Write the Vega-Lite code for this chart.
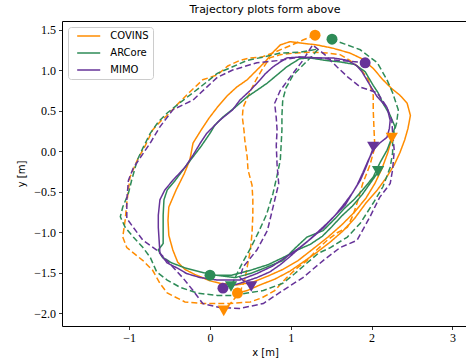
{
  "$schema": "https://vega.github.io/schema/vega-lite/v6.json",
  "width": 406,
  "height": 305,
  "autosize": "none",
  "padding": {"left": 62, "top": 21, "right": 0, "bottom": 36},
  "background": "white",
  "title": {"text": "Trajectory plots form above", "font": "DejaVu Sans", "fontSize": 11, "fontWeight": "normal", "color": "black", "offset": 6, "anchor": "middle"},
  "config": {
    "view": {"stroke": "black", "strokeWidth": 1},
    "axis": {"grid": false, "domain": false, "tickColor": "black", "tickSize": 3.5, "tickWidth": 0.8, "labelColor": "black", "labelFont": "Liberation Serif", "labelFontSize": 12, "labelPadding": 3, "titleFont": "DejaVu Sans", "titleFontSize": 10, "titleFontWeight": "normal", "titleColor": "black"},
    "legend": {"orient": "none", "legendX": 6, "legendY": 6, "fillColor": "white", "strokeColor": "#cccccc", "cornerRadius": 3, "padding": 4, "labelFont": "DejaVu Sans", "labelFontSize": 10, "labelColor": "black", "rowPadding": 7, "title": null}
  },
  "datasets": {
    "traj": [
      {"device":"COVINS","run":"run 1","x":0.33,"y":-1.75},{"device":"COVINS","run":"run 1","x":0.46,"y":-1.72},{"device":"COVINS","run":"run 1","x":0.62,"y":-1.65},{"device":"COVINS","run":"run 1","x":0.80,"y":-1.58},{"device":"COVINS","run":"run 1","x":0.99,"y":-1.48},{"device":"COVINS","run":"run 1","x":1.15,"y":-1.37},{"device":"COVINS","run":"run 1","x":1.32,"y":-1.25},{"device":"COVINS","run":"run 1","x":1.49,"y":-1.12},{"device":"COVINS","run":"run 1","x":1.65,"y":-0.98},{"device":"COVINS","run":"run 1","x":1.79,"y":-0.83},{"device":"COVINS","run":"run 1","x":1.93,"y":-0.64},{"device":"COVINS","run":"run 1","x":2.07,"y":-0.48},{"device":"COVINS","run":"run 1","x":2.18,"y":-0.33},{"device":"COVINS","run":"run 1","x":2.28,"y":-0.17},{"device":"COVINS","run":"run 1","x":2.35,"y":-0.02},{"device":"COVINS","run":"run 1","x":2.41,"y":0.14},{"device":"COVINS","run":"run 1","x":2.45,"y":0.28},{"device":"COVINS","run":"run 1","x":2.48,"y":0.44},{"device":"COVINS","run":"run 1","x":2.44,"y":0.59},{"device":"COVINS","run":"run 1","x":2.35,"y":0.69},{"device":"COVINS","run":"run 1","x":2.25,"y":0.77},{"device":"COVINS","run":"run 1","x":2.14,"y":0.88},{"device":"COVINS","run":"run 1","x":2.02,"y":1.02},{"device":"COVINS","run":"run 1","x":1.88,"y":1.14},{"device":"COVINS","run":"run 1","x":1.73,"y":1.21},{"device":"COVINS","run":"run 1","x":1.52,"y":1.27},{"device":"COVINS","run":"run 1","x":1.32,"y":1.31},{"device":"COVINS","run":"run 1","x":1.15,"y":1.33},{"device":"COVINS","run":"run 1","x":0.99,"y":1.35},{"device":"COVINS","run":"run 1","x":0.87,"y":1.31},{"device":"COVINS","run":"run 1","x":0.78,"y":1.22},{"device":"COVINS","run":"run 1","x":0.68,"y":1.10},{"device":"COVINS","run":"run 1","x":0.58,"y":1.00},{"device":"COVINS","run":"run 1","x":0.46,"y":0.88},{"device":"COVINS","run":"run 1","x":0.33,"y":0.79},{"device":"COVINS","run":"run 1","x":0.21,"y":0.68},{"device":"COVINS","run":"run 1","x":0.09,"y":0.54},{"device":"COVINS","run":"run 1","x":-0.01,"y":0.41},{"device":"COVINS","run":"run 1","x":-0.11,"y":0.26},{"device":"COVINS","run":"run 1","x":-0.21,"y":0.10},{"device":"COVINS","run":"run 1","x":-0.25,"y":-0.11},{"device":"COVINS","run":"run 1","x":-0.32,"y":-0.28},{"device":"COVINS","run":"run 1","x":-0.42,"y":-0.48},{"device":"COVINS","run":"run 1","x":-0.51,"y":-0.69},{"device":"COVINS","run":"run 1","x":-0.52,"y":-0.85},{"device":"COVINS","run":"run 1","x":-0.51,"y":-1.04},{"device":"COVINS","run":"run 1","x":-0.46,"y":-1.22},{"device":"COVINS","run":"run 1","x":-0.40,"y":-1.37},{"device":"COVINS","run":"run 1","x":-0.31,"y":-1.46},{"device":"COVINS","run":"run 1","x":-0.19,"y":-1.52},{"device":"COVINS","run":"run 1","x":0.00,"y":-1.60},{"device":"COVINS","run":"run 1","x":0.12,"y":-1.63},{"device":"COVINS","run":"run 1","x":0.33,"y":-1.65},{"device":"COVINS","run":"run 1","x":0.52,"y":-1.62},{"device":"COVINS","run":"run 1","x":0.72,"y":-1.54},{"device":"COVINS","run":"run 1","x":0.90,"y":-1.46},{"device":"COVINS","run":"run 1","x":1.09,"y":-1.35},{"device":"COVINS","run":"run 1","x":1.27,"y":-1.21},{"device":"COVINS","run":"run 1","x":1.46,"y":-1.06},{"device":"COVINS","run":"run 1","x":1.63,"y":-0.91},{"device":"COVINS","run":"run 1","x":1.79,"y":-0.75},{"device":"COVINS","run":"run 1","x":1.93,"y":-0.58},{"device":"COVINS","run":"run 1","x":2.04,"y":-0.40},{"device":"COVINS","run":"run 1","x":2.13,"y":-0.21},{"device":"COVINS","run":"run 1","x":2.20,"y":-0.02},{"device":"COVINS","run":"run 1","x":2.25,"y":0.16},

      {"device":"COVINS","run":"run 2","x":1.30,"y":1.43},{"device":"COVINS","run":"run 2","x":1.15,"y":1.37},{"device":"COVINS","run":"run 2","x":0.99,"y":1.30},{"device":"COVINS","run":"run 2","x":0.80,"y":1.22},{"device":"COVINS","run":"run 2","x":0.64,"y":1.16},{"device":"COVINS","run":"run 2","x":0.50,"y":1.15},{"device":"COVINS","run":"run 2","x":0.37,"y":1.12},{"device":"COVINS","run":"run 2","x":0.22,"y":1.05},{"device":"COVINS","run":"run 2","x":0.09,"y":0.94},{"device":"COVINS","run":"run 2","x":-0.09,"y":0.88},{"device":"COVINS","run":"run 2","x":-0.25,"y":0.73},{"device":"COVINS","run":"run 2","x":-0.40,"y":0.58},{"device":"COVINS","run":"run 2","x":-0.50,"y":0.47},{"device":"COVINS","run":"run 2","x":-0.62,"y":0.36},{"device":"COVINS","run":"run 2","x":-0.71,"y":0.26},{"device":"COVINS","run":"run 2","x":-0.80,"y":0.07},{"device":"COVINS","run":"run 2","x":-0.90,"y":-0.11},{"device":"COVINS","run":"run 2","x":-0.99,"y":-0.32},{"device":"COVINS","run":"run 2","x":-1.01,"y":-0.48},{"device":"COVINS","run":"run 2","x":-1.03,"y":-0.64},{"device":"COVINS","run":"run 2","x":-1.05,"y":-0.85},{"device":"COVINS","run":"run 2","x":-1.08,"y":-1.06},{"device":"COVINS","run":"run 2","x":-1.03,"y":-1.19},{"device":"COVINS","run":"run 2","x":-0.93,"y":-1.27},{"device":"COVINS","run":"run 2","x":-0.83,"y":-1.35},{"device":"COVINS","run":"run 2","x":-0.71,"y":-1.47},{"device":"COVINS","run":"run 2","x":-0.62,"y":-1.63},{"device":"COVINS","run":"run 2","x":-0.53,"y":-1.75},{"device":"COVINS","run":"run 2","x":-0.31,"y":-1.86},{"device":"COVINS","run":"run 2","x":-0.09,"y":-1.88},{"device":"COVINS","run":"run 2","x":0.25,"y":-1.88},{"device":"COVINS","run":"run 2","x":0.50,"y":-1.86},{"device":"COVINS","run":"run 2","x":0.64,"y":-1.81},{"device":"COVINS","run":"run 2","x":0.80,"y":-1.72},{"device":"COVINS","run":"run 2","x":0.95,"y":-1.56},{"device":"COVINS","run":"run 2","x":1.08,"y":-1.44},{"device":"COVINS","run":"run 2","x":1.20,"y":-1.35},{"device":"COVINS","run":"run 2","x":1.32,"y":-1.22},{"device":"COVINS","run":"run 2","x":1.45,"y":-1.10},{"device":"COVINS","run":"run 2","x":1.57,"y":-1.01},{"device":"COVINS","run":"run 2","x":1.70,"y":-0.94},{"device":"COVINS","run":"run 2","x":1.77,"y":-0.79},{"device":"COVINS","run":"run 2","x":1.82,"y":-0.64},{"device":"COVINS","run":"run 2","x":1.89,"y":-0.40},{"device":"COVINS","run":"run 2","x":1.98,"y":-0.17},{"device":"COVINS","run":"run 2","x":2.04,"y":0.05},{"device":"COVINS","run":"run 2","x":2.03,"y":0.26},{"device":"COVINS","run":"run 2","x":2.02,"y":0.51},{"device":"COVINS","run":"run 2","x":2.02,"y":0.69},{"device":"COVINS","run":"run 2","x":1.96,"y":0.88},{"device":"COVINS","run":"run 2","x":1.86,"y":1.02},{"device":"COVINS","run":"run 2","x":1.73,"y":1.12},{"device":"COVINS","run":"run 2","x":1.61,"y":1.19},{"device":"COVINS","run":"run 2","x":1.45,"y":1.21},{"device":"COVINS","run":"run 2","x":1.24,"y":1.22},{"device":"COVINS","run":"run 2","x":1.05,"y":1.21},{"device":"COVINS","run":"run 2","x":0.87,"y":1.19},{"device":"COVINS","run":"run 2","x":0.74,"y":1.15},{"device":"COVINS","run":"run 2","x":0.64,"y":1.00},{"device":"COVINS","run":"run 2","x":0.57,"y":0.88},{"device":"COVINS","run":"run 2","x":0.52,"y":0.78},{"device":"COVINS","run":"run 2","x":0.45,"y":0.63},{"device":"COVINS","run":"run 2","x":0.41,"y":0.54},{"device":"COVINS","run":"run 2","x":0.40,"y":0.42},{"device":"COVINS","run":"run 2","x":0.42,"y":0.26},{"device":"COVINS","run":"run 2","x":0.43,"y":0.14},{"device":"COVINS","run":"run 2","x":0.46,"y":-0.07},{"device":"COVINS","run":"run 2","x":0.47,"y":-0.23},{"device":"COVINS","run":"run 2","x":0.52,"y":-0.42},{"device":"COVINS","run":"run 2","x":0.53,"y":-0.60},{"device":"COVINS","run":"run 2","x":0.53,"y":-0.79},{"device":"COVINS","run":"run 2","x":0.52,"y":-1.01},{"device":"COVINS","run":"run 2","x":0.50,"y":-1.22},{"device":"COVINS","run":"run 2","x":0.46,"y":-1.43},{"device":"COVINS","run":"run 2","x":0.43,"y":-1.59},{"device":"COVINS","run":"run 2","x":0.37,"y":-1.74},{"device":"COVINS","run":"run 2","x":0.27,"y":-1.86},{"device":"COVINS","run":"run 2","x":0.17,"y":-1.97},

      {"device":"ARCore","run":"run 1","x":0.00,"y":-1.52},{"device":"ARCore","run":"run 1","x":0.15,"y":-1.54},{"device":"ARCore","run":"run 1","x":0.31,"y":-1.56},{"device":"ARCore","run":"run 1","x":0.50,"y":-1.51},{"device":"ARCore","run":"run 1","x":0.68,"y":-1.44},{"device":"ARCore","run":"run 1","x":0.90,"y":-1.35},{"device":"ARCore","run":"run 1","x":1.05,"y":-1.20},{"device":"ARCore","run":"run 1","x":1.20,"y":-1.06},{"device":"ARCore","run":"run 1","x":1.40,"y":-0.98},{"device":"ARCore","run":"run 1","x":1.55,"y":-0.83},{"device":"ARCore","run":"run 1","x":1.67,"y":-0.70},{"device":"ARCore","run":"run 1","x":1.79,"y":-0.59},{"device":"ARCore","run":"run 1","x":1.88,"y":-0.49},{"device":"ARCore","run":"run 1","x":2.02,"y":-0.32},{"device":"ARCore","run":"run 1","x":2.10,"y":-0.15},{"device":"ARCore","run":"run 1","x":2.19,"y":0.01},{"device":"ARCore","run":"run 1","x":2.24,"y":0.14},{"device":"ARCore","run":"run 1","x":2.29,"y":0.30},{"device":"ARCore","run":"run 1","x":2.23,"y":0.44},{"device":"ARCore","run":"run 1","x":2.14,"y":0.59},{"device":"ARCore","run":"run 1","x":2.08,"y":0.72},{"device":"ARCore","run":"run 1","x":2.02,"y":0.81},{"device":"ARCore","run":"run 1","x":1.92,"y":0.98},{"device":"ARCore","run":"run 1","x":1.79,"y":1.07},{"device":"ARCore","run":"run 1","x":1.61,"y":1.10},{"device":"ARCore","run":"run 1","x":1.42,"y":1.12},{"device":"ARCore","run":"run 1","x":1.24,"y":1.15},{"device":"ARCore","run":"run 1","x":1.11,"y":1.14},{"device":"ARCore","run":"run 1","x":0.95,"y":1.04},{"device":"ARCore","run":"run 1","x":0.83,"y":0.94},{"device":"ARCore","run":"run 1","x":0.71,"y":0.84},{"device":"ARCore","run":"run 1","x":0.58,"y":0.75},{"device":"ARCore","run":"run 1","x":0.46,"y":0.67},{"device":"ARCore","run":"run 1","x":0.31,"y":0.54},{"device":"ARCore","run":"run 1","x":0.16,"y":0.42},{"device":"ARCore","run":"run 1","x":0.06,"y":0.32},{"device":"ARCore","run":"run 1","x":0.00,"y":0.22},{"device":"ARCore","run":"run 1","x":-0.11,"y":0.06},{"device":"ARCore","run":"run 1","x":-0.21,"y":-0.07},{"device":"ARCore","run":"run 1","x":-0.31,"y":-0.20},{"device":"ARCore","run":"run 1","x":-0.43,"y":-0.36},{"device":"ARCore","run":"run 1","x":-0.53,"y":-0.48},{"device":"ARCore","run":"run 1","x":-0.57,"y":-0.60},{"device":"ARCore","run":"run 1","x":-0.58,"y":-0.79},{"device":"ARCore","run":"run 1","x":-0.58,"y":-0.98},{"device":"ARCore","run":"run 1","x":-0.58,"y":-1.14},{"device":"ARCore","run":"run 1","x":-0.64,"y":-1.22},{"device":"ARCore","run":"run 1","x":-0.59,"y":-1.31},{"device":"ARCore","run":"run 1","x":-0.47,"y":-1.38},{"device":"ARCore","run":"run 1","x":-0.31,"y":-1.44},{"device":"ARCore","run":"run 1","x":-0.12,"y":-1.49},{"device":"ARCore","run":"run 1","x":0.06,"y":-1.53},{"device":"ARCore","run":"run 1","x":0.27,"y":-1.53},{"device":"ARCore","run":"run 1","x":0.50,"y":-1.47},{"device":"ARCore","run":"run 1","x":0.72,"y":-1.40},{"device":"ARCore","run":"run 1","x":0.93,"y":-1.30},{"device":"ARCore","run":"run 1","x":1.08,"y":-1.22},{"device":"ARCore","run":"run 1","x":1.24,"y":-1.15},{"device":"ARCore","run":"run 1","x":1.39,"y":-1.05},{"device":"ARCore","run":"run 1","x":1.51,"y":-0.93},{"device":"ARCore","run":"run 1","x":1.63,"y":-0.80},{"device":"ARCore","run":"run 1","x":1.76,"y":-0.68},{"device":"ARCore","run":"run 1","x":1.88,"y":-0.54},{"device":"ARCore","run":"run 1","x":1.98,"y":-0.40},{"device":"ARCore","run":"run 1","x":2.08,"y":-0.26},

      {"device":"ARCore","run":"run 2","x":1.50,"y":1.38},{"device":"ARCore","run":"run 2","x":1.67,"y":1.32},{"device":"ARCore","run":"run 2","x":1.86,"y":1.25},{"device":"ARCore","run":"run 2","x":2.07,"y":1.09},{"device":"ARCore","run":"run 2","x":2.19,"y":0.88},{"device":"ARCore","run":"run 2","x":2.26,"y":0.72},{"device":"ARCore","run":"run 2","x":2.33,"y":0.51},{"device":"ARCore","run":"run 2","x":2.31,"y":0.35},{"device":"ARCore","run":"run 2","x":2.26,"y":0.17},{"device":"ARCore","run":"run 2","x":2.26,"y":-0.02},{"device":"ARCore","run":"run 2","x":2.23,"y":-0.20},{"device":"ARCore","run":"run 2","x":2.14,"y":-0.44},{"device":"ARCore","run":"run 2","x":2.02,"y":-0.64},{"device":"ARCore","run":"run 2","x":1.86,"y":-0.89},{"device":"ARCore","run":"run 2","x":1.70,"y":-1.06},{"device":"ARCore","run":"run 2","x":1.49,"y":-1.19},{"device":"ARCore","run":"run 2","x":1.34,"y":-1.26},{"device":"ARCore","run":"run 2","x":1.20,"y":-1.38},{"device":"ARCore","run":"run 2","x":1.05,"y":-1.51},{"device":"ARCore","run":"run 2","x":0.90,"y":-1.63},{"device":"ARCore","run":"run 2","x":0.66,"y":-1.72},{"device":"ARCore","run":"run 2","x":0.46,"y":-1.75},{"device":"ARCore","run":"run 2","x":0.28,"y":-1.78},{"device":"ARCore","run":"run 2","x":0.09,"y":-1.78},{"device":"ARCore","run":"run 2","x":-0.16,"y":-1.75},{"device":"ARCore","run":"run 2","x":-0.37,"y":-1.68},{"device":"ARCore","run":"run 2","x":-0.53,"y":-1.59},{"device":"ARCore","run":"run 2","x":-0.66,"y":-1.49},{"device":"ARCore","run":"run 2","x":-0.74,"y":-1.31},{"device":"ARCore","run":"run 2","x":-0.83,"y":-1.19},{"device":"ARCore","run":"run 2","x":-0.95,"y":-1.06},{"device":"ARCore","run":"run 2","x":-1.05,"y":-0.94},{"device":"ARCore","run":"run 2","x":-1.11,"y":-0.81},{"device":"ARCore","run":"run 2","x":-1.08,"y":-0.69},{"device":"ARCore","run":"run 2","x":-1.01,"y":-0.52},{"device":"ARCore","run":"run 2","x":-0.97,"y":-0.36},{"device":"ARCore","run":"run 2","x":-0.90,"y":-0.11},{"device":"ARCore","run":"run 2","x":-0.83,"y":0.04},{"device":"ARCore","run":"run 2","x":-0.74,"y":0.22},{"device":"ARCore","run":"run 2","x":-0.64,"y":0.36},{"device":"ARCore","run":"run 2","x":-0.53,"y":0.47},{"device":"ARCore","run":"run 2","x":-0.33,"y":0.63},{"device":"ARCore","run":"run 2","x":-0.12,"y":0.79},{"device":"ARCore","run":"run 2","x":0.09,"y":0.96},{"device":"ARCore","run":"run 2","x":0.28,"y":1.04},{"device":"ARCore","run":"run 2","x":0.46,"y":1.12},{"device":"ARCore","run":"run 2","x":0.66,"y":1.16},{"device":"ARCore","run":"run 2","x":0.87,"y":1.21},{"device":"ARCore","run":"run 2","x":1.11,"y":1.22},{"device":"ARCore","run":"run 2","x":1.34,"y":1.26},{"device":"ARCore","run":"run 2","x":1.26,"y":1.17},{"device":"ARCore","run":"run 2","x":1.18,"y":1.09},{"device":"ARCore","run":"run 2","x":1.03,"y":0.94},{"device":"ARCore","run":"run 2","x":0.94,"y":0.78},{"device":"ARCore","run":"run 2","x":0.90,"y":0.63},{"device":"ARCore","run":"run 2","x":0.89,"y":0.44},{"device":"ARCore","run":"run 2","x":0.89,"y":0.26},{"device":"ARCore","run":"run 2","x":0.88,"y":0.07},{"device":"ARCore","run":"run 2","x":0.87,"y":-0.11},{"device":"ARCore","run":"run 2","x":0.83,"y":-0.30},{"device":"ARCore","run":"run 2","x":0.78,"y":-0.52},{"device":"ARCore","run":"run 2","x":0.70,"y":-0.78},{"device":"ARCore","run":"run 2","x":0.60,"y":-1.00},{"device":"ARCore","run":"run 2","x":0.50,"y":-1.20},{"device":"ARCore","run":"run 2","x":0.40,"y":-1.38},{"device":"ARCore","run":"run 2","x":0.32,"y":-1.54},{"device":"ARCore","run":"run 2","x":0.26,"y":-1.67},

      {"device":"MIMO","run":"run 1","x":0.15,"y":-1.69},{"device":"MIMO","run":"run 1","x":0.37,"y":-1.63},{"device":"MIMO","run":"run 1","x":0.58,"y":-1.56},{"device":"MIMO","run":"run 1","x":0.74,"y":-1.49},{"device":"MIMO","run":"run 1","x":0.87,"y":-1.40},{"device":"MIMO","run":"run 1","x":0.99,"y":-1.30},{"device":"MIMO","run":"run 1","x":1.08,"y":-1.22},{"device":"MIMO","run":"run 1","x":1.20,"y":-1.12},{"device":"MIMO","run":"run 1","x":1.32,"y":-1.01},{"device":"MIMO","run":"run 1","x":1.45,"y":-0.89},{"device":"MIMO","run":"run 1","x":1.57,"y":-0.77},{"device":"MIMO","run":"run 1","x":1.67,"y":-0.67},{"device":"MIMO","run":"run 1","x":1.73,"y":-0.57},{"device":"MIMO","run":"run 1","x":1.82,"y":-0.42},{"device":"MIMO","run":"run 1","x":1.89,"y":-0.27},{"device":"MIMO","run":"run 1","x":1.96,"y":-0.11},{"device":"MIMO","run":"run 1","x":2.02,"y":0.01},{"device":"MIMO","run":"run 1","x":2.10,"y":0.10},{"device":"MIMO","run":"run 1","x":2.19,"y":0.17},{"device":"MIMO","run":"run 1","x":2.22,"y":0.28},{"device":"MIMO","run":"run 1","x":2.23,"y":0.38},{"device":"MIMO","run":"run 1","x":2.19,"y":0.54},{"device":"MIMO","run":"run 1","x":2.07,"y":0.67},{"device":"MIMO","run":"run 1","x":2.00,"y":0.78},{"device":"MIMO","run":"run 1","x":1.94,"y":0.88},{"device":"MIMO","run":"run 1","x":1.88,"y":0.98},{"device":"MIMO","run":"run 1","x":1.82,"y":1.05},{"device":"MIMO","run":"run 1","x":1.70,"y":1.12},{"device":"MIMO","run":"run 1","x":1.52,"y":1.15},{"device":"MIMO","run":"run 1","x":1.32,"y":1.15},{"device":"MIMO","run":"run 1","x":1.11,"y":1.16},{"device":"MIMO","run":"run 1","x":0.95,"y":1.15},{"device":"MIMO","run":"run 1","x":0.87,"y":1.10},{"device":"MIMO","run":"run 1","x":0.78,"y":1.04},{"device":"MIMO","run":"run 1","x":0.68,"y":0.95},{"device":"MIMO","run":"run 1","x":0.62,"y":0.88},{"device":"MIMO","run":"run 1","x":0.50,"y":0.75},{"device":"MIMO","run":"run 1","x":0.37,"y":0.63},{"device":"MIMO","run":"run 1","x":0.28,"y":0.51},{"device":"MIMO","run":"run 1","x":0.12,"y":0.38},{"device":"MIMO","run":"run 1","x":-0.04,"y":0.22},{"device":"MIMO","run":"run 1","x":-0.12,"y":0.10},{"device":"MIMO","run":"run 1","x":-0.21,"y":-0.05},{"device":"MIMO","run":"run 1","x":-0.31,"y":-0.20},{"device":"MIMO","run":"run 1","x":-0.46,"y":-0.36},{"device":"MIMO","run":"run 1","x":-0.56,"y":-0.48},{"device":"MIMO","run":"run 1","x":-0.62,"y":-0.60},{"device":"MIMO","run":"run 1","x":-0.64,"y":-0.79},{"device":"MIMO","run":"run 1","x":-0.64,"y":-0.94},{"device":"MIMO","run":"run 1","x":-0.63,"y":-1.10},{"device":"MIMO","run":"run 1","x":-0.62,"y":-1.26},{"device":"MIMO","run":"run 1","x":-0.53,"y":-1.38},{"device":"MIMO","run":"run 1","x":-0.41,"y":-1.44},{"device":"MIMO","run":"run 1","x":-0.29,"y":-1.51},{"device":"MIMO","run":"run 1","x":-0.12,"y":-1.56},{"device":"MIMO","run":"run 1","x":0.09,"y":-1.59},{"device":"MIMO","run":"run 1","x":0.37,"y":-1.59},{"device":"MIMO","run":"run 1","x":0.58,"y":-1.51},{"device":"MIMO","run":"run 1","x":0.77,"y":-1.42},{"device":"MIMO","run":"run 1","x":0.95,"y":-1.30},{"device":"MIMO","run":"run 1","x":1.11,"y":-1.19},{"device":"MIMO","run":"run 1","x":1.26,"y":-1.07},{"device":"MIMO","run":"run 1","x":1.40,"y":-0.95},{"device":"MIMO","run":"run 1","x":1.55,"y":-0.79},{"device":"MIMO","run":"run 1","x":1.67,"y":-0.64},{"device":"MIMO","run":"run 1","x":1.76,"y":-0.52},{"device":"MIMO","run":"run 1","x":1.86,"y":-0.36},{"device":"MIMO","run":"run 1","x":1.93,"y":-0.20},{"device":"MIMO","run":"run 1","x":1.98,"y":-0.07},{"device":"MIMO","run":"run 1","x":2.02,"y":0.04},

      {"device":"MIMO","run":"run 2","x":1.83,"y":1.10},{"device":"MIMO","run":"run 2","x":1.57,"y":1.12},{"device":"MIMO","run":"run 2","x":1.36,"y":1.15},{"device":"MIMO","run":"run 2","x":1.11,"y":1.16},{"device":"MIMO","run":"run 2","x":0.87,"y":1.12},{"device":"MIMO","run":"run 2","x":0.58,"y":1.09},{"device":"MIMO","run":"run 2","x":0.28,"y":1.00},{"device":"MIMO","run":"run 2","x":0.09,"y":0.91},{"device":"MIMO","run":"run 2","x":-0.04,"y":0.79},{"device":"MIMO","run":"run 2","x":-0.21,"y":0.63},{"device":"MIMO","run":"run 2","x":-0.46,"y":0.51},{"device":"MIMO","run":"run 2","x":-0.62,"y":0.30},{"device":"MIMO","run":"run 2","x":-0.74,"y":0.10},{"device":"MIMO","run":"run 2","x":-0.87,"y":-0.09},{"device":"MIMO","run":"run 2","x":-0.95,"y":-0.21},{"device":"MIMO","run":"run 2","x":-1.01,"y":-0.36},{"device":"MIMO","run":"run 2","x":-1.03,"y":-0.60},{"device":"MIMO","run":"run 2","x":-1.03,"y":-0.83},{"device":"MIMO","run":"run 2","x":-0.95,"y":-0.94},{"device":"MIMO","run":"run 2","x":-0.83,"y":-1.10},{"device":"MIMO","run":"run 2","x":-0.66,"y":-1.22},{"device":"MIMO","run":"run 2","x":-0.56,"y":-1.32},{"device":"MIMO","run":"run 2","x":-0.46,"y":-1.43},{"device":"MIMO","run":"run 2","x":-0.33,"y":-1.57},{"device":"MIMO","run":"run 2","x":-0.21,"y":-1.72},{"device":"MIMO","run":"run 2","x":-0.09,"y":-1.88},{"device":"MIMO","run":"run 2","x":0.12,"y":-1.93},{"device":"MIMO","run":"run 2","x":0.37,"y":-1.94},{"device":"MIMO","run":"run 2","x":0.66,"y":-1.88},{"device":"MIMO","run":"run 2","x":0.90,"y":-1.72},{"device":"MIMO","run":"run 2","x":1.15,"y":-1.56},{"device":"MIMO","run":"run 2","x":1.40,"y":-1.35},{"device":"MIMO","run":"run 2","x":1.61,"y":-1.19},{"device":"MIMO","run":"run 2","x":1.82,"y":-1.10},{"device":"MIMO","run":"run 2","x":1.98,"y":-0.81},{"device":"MIMO","run":"run 2","x":2.10,"y":-0.57},{"device":"MIMO","run":"run 2","x":2.23,"y":-0.40},{"device":"MIMO","run":"run 2","x":2.26,"y":-0.23},{"device":"MIMO","run":"run 2","x":2.28,"y":0.01},{"device":"MIMO","run":"run 2","x":2.26,"y":0.22},{"device":"MIMO","run":"run 2","x":2.25,"y":0.38},{"device":"MIMO","run":"run 2","x":2.19,"y":0.54},{"device":"MIMO","run":"run 2","x":2.07,"y":0.72},{"device":"MIMO","run":"run 2","x":1.86,"y":0.79},{"device":"MIMO","run":"run 2","x":1.71,"y":0.91},{"device":"MIMO","run":"run 2","x":1.57,"y":1.04},{"device":"MIMO","run":"run 2","x":1.42,"y":1.19},{"device":"MIMO","run":"run 2","x":1.27,"y":1.31},{"device":"MIMO","run":"run 2","x":1.15,"y":1.12},{"device":"MIMO","run":"run 2","x":0.99,"y":0.91},{"device":"MIMO","run":"run 2","x":0.87,"y":0.75},{"device":"MIMO","run":"run 2","x":0.80,"y":0.59},{"device":"MIMO","run":"run 2","x":0.82,"y":0.41},{"device":"MIMO","run":"run 2","x":0.83,"y":0.26},{"device":"MIMO","run":"run 2","x":0.82,"y":0.07},{"device":"MIMO","run":"run 2","x":0.83,"y":-0.17},{"device":"MIMO","run":"run 2","x":0.85,"y":-0.40},{"device":"MIMO","run":"run 2","x":0.78,"y":-0.69},{"device":"MIMO","run":"run 2","x":0.71,"y":-0.98},{"device":"MIMO","run":"run 2","x":0.58,"y":-1.22},{"device":"MIMO","run":"run 2","x":0.41,"y":-1.43},{"device":"MIMO","run":"run 2","x":0.37,"y":-1.56},{"device":"MIMO","run":"run 2","x":0.50,"y":-1.67}
    ],
    "marks": [
      {"device":"COVINS","marker":"start","x":1.30,"y":1.43},{"device":"COVINS","marker":"start","x":0.34,"y":-1.75},
      {"device":"ARCore","marker":"start","x":1.51,"y":1.38},{"device":"ARCore","marker":"start","x":0.00,"y":-1.53},
      {"device":"MIMO","marker":"start","x":1.92,"y":1.09},{"device":"MIMO","marker":"start","x":0.16,"y":-1.69},
      {"device":"COVINS","marker":"end","x":2.25,"y":0.16},{"device":"COVINS","marker":"end","x":0.17,"y":-1.97},
      {"device":"ARCore","marker":"end","x":2.08,"y":-0.25},{"device":"ARCore","marker":"end","x":0.26,"y":-1.67},
      {"device":"MIMO","marker":"end","x":2.02,"y":0.05},{"device":"MIMO","marker":"end","x":0.51,"y":-1.67}
    ]
  },
  "layer": [
    {
      "data": {"name": "traj"},
      "mark": {"type": "line", "strokeWidth": 1.5, "clip": true},
      "encoding": {
        "x": {"field": "x", "type": "quantitative", "scale": {"domain": [-1.832, 3.193], "nice": false, "zero": false}, "axis": {"title": "x [m]", "values": [-1, 0, 1, 2, 3], "format": "d", "titlePadding": 4}},
        "y": {"field": "y", "type": "quantitative", "scale": {"domain": [-2.157, 1.605], "nice": false, "zero": false}, "axis": {"title": "y [m]", "values": [-2, -1.5, -1, -0.5, 0, 0.5, 1, 1.5], "format": ".1f", "titlePadding": 7}},
        "color": {"field": "device", "type": "nominal", "scale": {"domain": ["COVINS", "ARCore", "MIMO"], "range": ["#ff8c00", "#2e8b57", "#663399"]}, "legend": {"symbolType": "M-3,0L3,0", "symbolSize": 59, "symbolStrokeWidth": 1.5, "symbolOffset": 11.7, "labelOffset": 16.6}},
        "strokeDash": {"field": "run", "type": "nominal", "scale": {"domain": ["run 1", "run 2"], "range": [[1, 0], [6, 3]]}, "legend": null},
        "order": {"value": null}
      }
    },
    {
      "data": {"name": "marks"},
      "mark": {"type": "point", "filled": true, "opacity": 1, "clip": true},
      "encoding": {
        "x": {"field": "x", "type": "quantitative"},
        "y": {"field": "y", "type": "quantitative"},
        "color": {"field": "device", "type": "nominal"},
        "shape": {"field": "marker", "type": "nominal", "scale": {"domain": ["start", "end"], "range": ["circle", "triangle-down"]}, "legend": null},
        "size": {"field": "marker", "type": "ordinal", "scale": {"domain": ["start", "end"], "range": [120, 150]}, "legend": null}
      }
    }
  ]
}
